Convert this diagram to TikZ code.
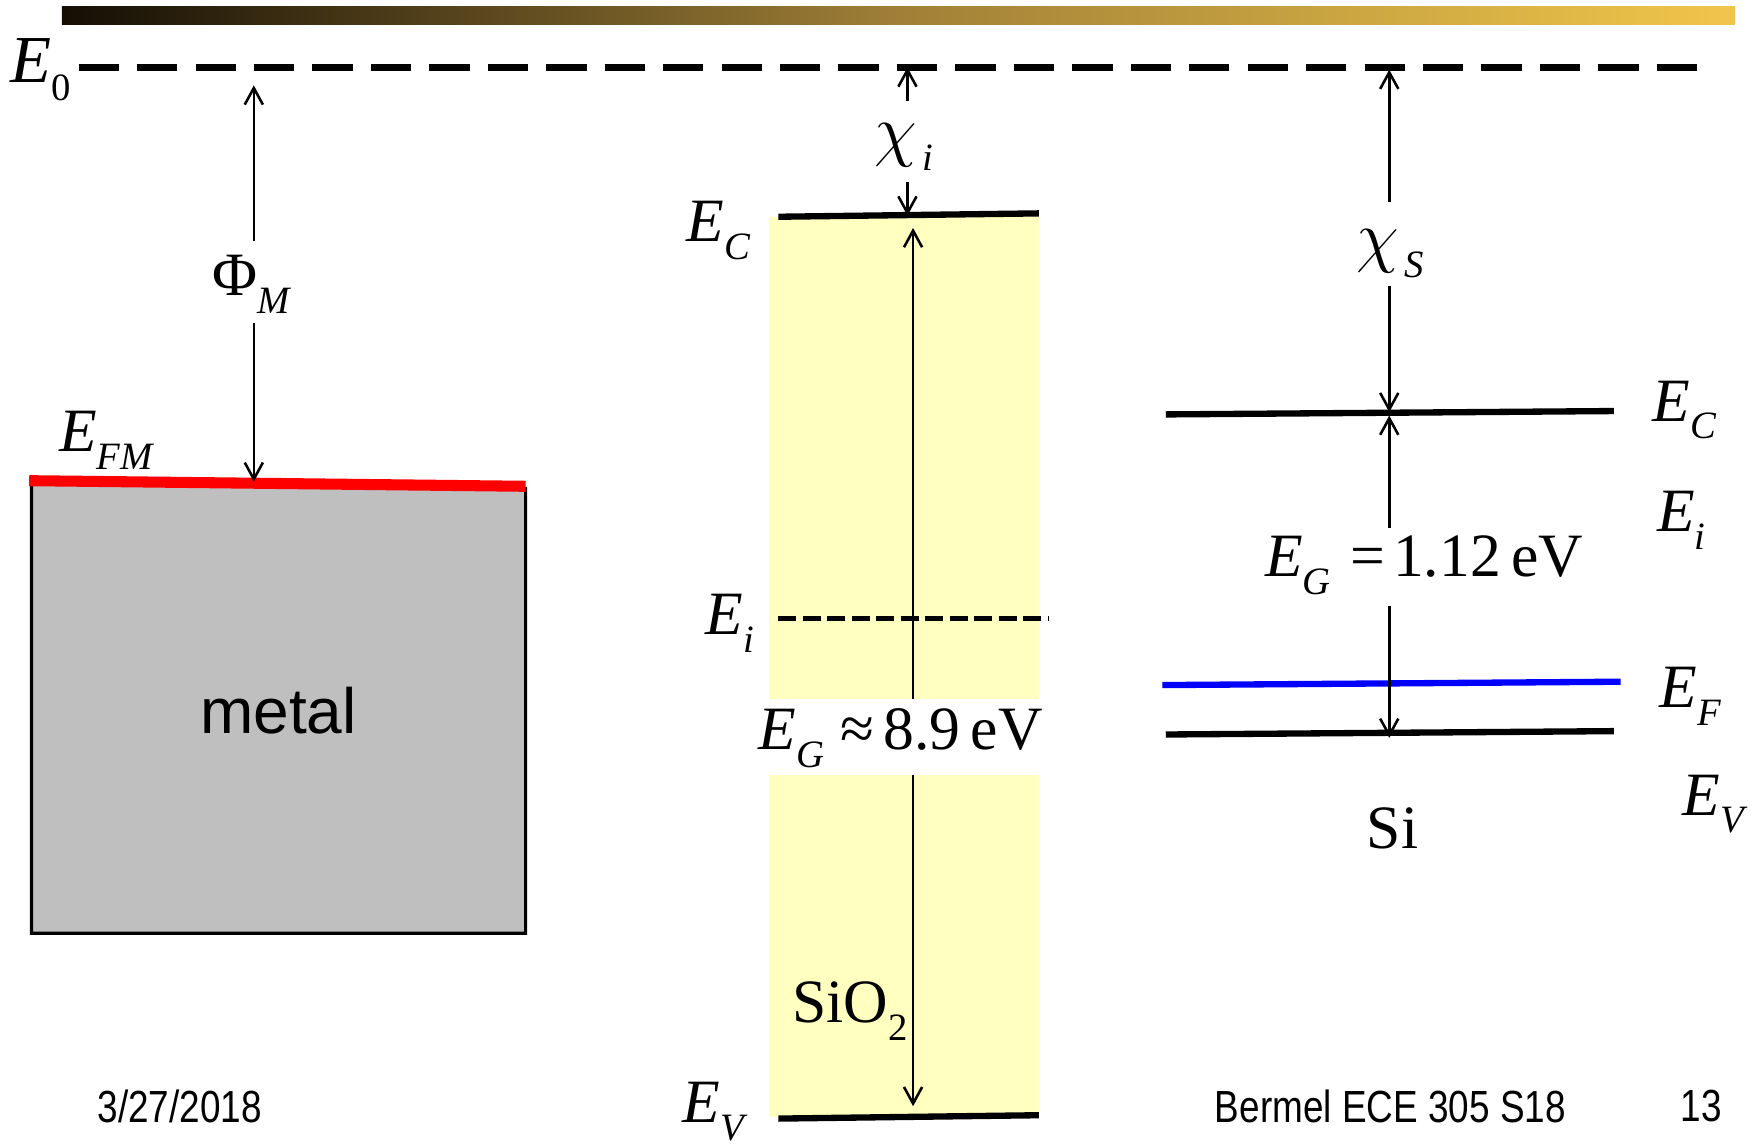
\documentclass[tikz,border=0pt]{standalone}
\usepackage{fontspec}
\usepackage{graphicx}
\setmainfont{Liberation Serif}
\newfontfamily\sansf{Liberation Sans}
\usetikzlibrary{arrows.meta}
\definecolor{oxide}{RGB}{255,255,192}
\definecolor{metalgray}{RGB}{191,191,191}
\definecolor{bardark}{RGB}{20,14,4}
\definecolor{barmid}{RGB}{160,128,55}
\definecolor{bargold}{RGB}{240,198,74}
\definecolor{fermiblue}{RGB}{0,0,255}
\definecolor{fermired}{RGB}{255,0,0}
\newcommand\Lv[2]{\textit{#1}\raisebox{-4.5pt}{\fontsize{9.8}{11}\selectfont\textit{#2}}}
\newcommand\Lu[2]{#1\raisebox{-4.5pt}{\fontsize{9.8}{11}\selectfont #2}}
\newcommand\Chi{\scalebox{1.22}{$\chi$}\kern1.5pt}
\begin{document}
\begin{tikzpicture}[x=0.01cm,y=-0.01cm,
  lbl/.style={inner sep=0pt, font=\fontsize{15.6}{18}\selectfont},
  foot/.style={inner sep=0pt, font=\sansf\fontsize{11.4}{13}\selectfont},
  arr/.style={line width=0.65pt,-{Straight Barb[length=4.2pt,width=4.6pt]}},
  level/.style={line width=1.6pt},
  vac/.style={line width=1.75pt, dash pattern=on 10.2pt off 4.6pt},
  midgap/.style={line width=1.3pt, dash pattern=on 4.6pt off 1.6pt}]
\useasboundingbox (0,0) rectangle (1568,1021);
% title bar
\shade[left color=bardark, right color=bargold, middle color=barmid] (55,6) rectangle (1545,22);
% vacuum level
\coordinate (e0L) at (70,60);
\coordinate (e0R) at (1515,60);
\draw[vac] (e0L) -- (e0R);
\node[lbl, font=\fontsize{17}{20}\selectfont] (E0) at (36,62) {\Lu{\textit{E}}{0}};
% metal
\draw[fill=metalgray, line width=0.8pt] (28,430) -- (468,435) -- (468,831) -- (28,831) -- cycle;
\coordinate (efmL) at (26,428);
\coordinate (efmR) at (468,433);
\draw[fermired, line width=2.8pt] (efmL) -- (efmR);
\node[lbl] (EFM) at (95,392) {\Lv{E}{FM}};
\node[inner sep=0pt, font=\sansf\fontsize{16.2}{19}\selectfont] (metal) at (248,633) {metal};
% Phi_M arrow
\coordinate (phiTop) at (226,76);
\coordinate (phiA) at (226,215);
\coordinate (phiB) at (226,288);
\coordinate (phiBot) at (226,429);
\node[lbl] (phiM) at (224,253) {\Lu{Φ}{\textit{M}}};
\draw[arr] (phiA) -- (phiTop);
\draw[arr] (phiB) -- (phiBot);
% SiO2
\fill[oxide] (685,193) rectangle (925,622);
\fill[oxide] (685,690) rectangle (925,995);
\coordinate (ocL) at (693,193);
\coordinate (ocR) at (925,190);
\draw[level] (ocL) -- (ocR);
\coordinate (ovL) at (693,996);
\coordinate (ovR) at (925,993);
\draw[level] (ovL) -- (ovR);
\coordinate (oiL) at (693,551);
\coordinate (oiR) at (933,551);
\draw[midgap] (oiL) -- (oiR);
\node[lbl] (oEC) at (640,205) {\Lv{E}{C}};
\node[lbl] (oEi) at (650,555) {\Lv{E}{i}};
\node[lbl] (oEV) at (637,990) {\Lv{E}{V}};
\node[lbl] (sio2) at (757,900) {\Lu{SiO}{2}};
% chi_i
\coordinate (chiiTop) at (808,60);
\coordinate (chiiA) at (808,90);
\coordinate (chiiB) at (808,162);
\coordinate (chiiBot) at (808,192);
\node[lbl] (chii) at (805,131) {\Chi\raisebox{-4.5pt}{\fontsize{9.8}{11}\selectfont\textit{i}}};
\draw[arr] (chiiA) -- (chiiTop);
\draw[arr] (chiiB) -- (chiiBot);
% Eg oxide
\coordinate (ogTop) at (813,203);
\coordinate (ogA) at (813,622);
\coordinate (ogB) at (813,690);
\coordinate (ogBot) at (813,985);
\node[lbl] (oEG) at (802,657) {\Lv{E}{G}\kern4pt≈\kern2.5pt8.9\,eV};
\draw[arr] (ogA) -- (ogTop);
\draw[arr] (ogB) -- (ogBot);
% Si
\coordinate (scL) at (1038,369);
\coordinate (scR) at (1437,366);
\draw[level] (scL) -- (scR);
\coordinate (sfL) at (1035,610);
\coordinate (sfR) at (1443,607);
\draw[level, fermiblue] (sfL) -- (sfR);
\coordinate (svL) at (1038,654);
\coordinate (svR) at (1437,651);
\draw[level] (svL) -- (svR);
\node[lbl] (sEC) at (1500,365) {\Lv{E}{C}};
\node[lbl] (sEi) at (1497,463) {\Lv{E}{i}};
\node[lbl] (sEF) at (1505,620) {\Lv{E}{F}};
\node[lbl] (sEV) at (1527,716) {\Lv{E}{V}};
\node[lbl] (si) at (1240,738) {Si};
% chi_S
\coordinate (chisTop) at (1237,62);
\coordinate (chisA) at (1237,180);
\coordinate (chisB) at (1237,255);
\coordinate (chisBot) at (1237,367);
\node[lbl] (chis) at (1238,226) {\Chi\raisebox{-4.5pt}{\fontsize{9.8}{11}\selectfont\textit{S}}};
\draw[arr] (chisA) -- (chisTop);
\draw[arr] (chisB) -- (chisBot);
% Eg Si
\coordinate (sgTop) at (1237,370);
\coordinate (sgA) at (1237,470);
\coordinate (sgB) at (1237,540);
\coordinate (sgBot) at (1237,657);
\node[lbl] (sEG) at (1268,503) {\Lv{E}{G}\kern5pt=\kern2pt1.12\,eV};
\draw[arr] (sgA) -- (sgTop);
\draw[arr] (sgB) -- (sgBot);
% footer
\node[foot] (date) at (160,985) {\scalebox{0.82}[1]{3/27/2018}};
\node[foot] (course) at (1238,985) {\scalebox{0.82}[1]{Bermel ECE 305 S18}};
\node[foot] (page) at (1515,985) {\scalebox{0.82}[1]{13}};
\end{tikzpicture}
\end{document}
